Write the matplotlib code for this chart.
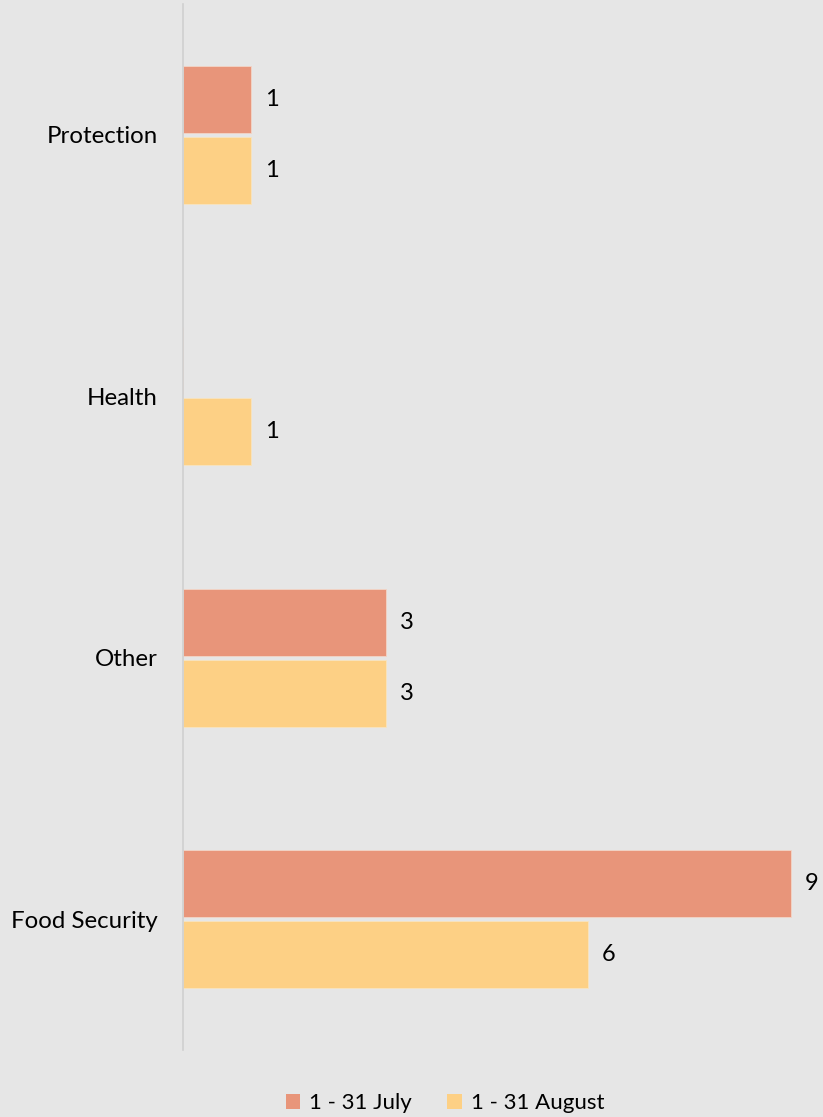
import numpy as np
import matplotlib.pyplot as plt
from matplotlib.patches import Patch

categories = ['Protection', 'Health', 'Other', 'Food Security']
july = [1, 0, 3, 9]
august = [1, 1, 3, 6]
series_names = ['1 - 31 July', '1 - 31 August']

colors = ['#E8957A', '#FDD085']
bg = '#E6E6E6'

plt.rcParams['font.family'] = ['Lato', 'DejaVu Sans']

fig = plt.figure(figsize=(8.23, 11.17), dpi=100, facecolor=bg)
# axes: x from 183px, y from 4px to 1050px
W, H = 823, 1117
ax = fig.add_axes([183 / W, (H - 1050) / H, (W - 183) / W, 1046 / H])
ax.set_facecolor(bg)

y = np.arange(len(categories))
bh = 0.256
off = 0.135

ax.barh(y - off, july, height=bh, color=colors[0], edgecolor='#F2D6C8', linewidth=0.6)
ax.barh(y + off, august, height=bh, color=colors[1], edgecolor='#F7E4C0', linewidth=0.6)

for i in range(len(categories)):
    if july[i] > 0:
        ax.text(july[i] + 0.21, y[i] - off, str(july[i]), va='center', ha='left', fontsize=17)
    if august[i] > 0:
        ax.text(august[i] + 0.21, y[i] + off, str(august[i]), va='center', ha='left', fontsize=17)

ax.set_xlim(0, (W - 183) / 67.5)
ax.set_ylim(3.5, -0.5)
ax.set_yticks(y)
ax.set_yticklabels(categories, fontsize=17.3)
ax.set_xticks([])
ax.tick_params(axis='y', length=0, pad=18)
for s in ['top', 'right', 'bottom']:
    ax.spines[s].set_visible(False)
ax.spines['left'].set_color('#D0D0D0')
ax.spines['left'].set_linewidth(1.2)

legend_element = [Patch(facecolor=colors[0], label=series_names[0]),
                  Patch(facecolor=colors[1], label=series_names[1])]
fig.legend(handles=legend_element, loc='center', bbox_to_anchor=(445 / W, 1 - 1103 / H),
           ncol=2, frameon=False, fontsize=16, handlelength=0.65, handleheight=0.65,
           handletextpad=0.4, columnspacing=1.6)

fig.savefig('out.png', dpi=100, facecolor=bg)
